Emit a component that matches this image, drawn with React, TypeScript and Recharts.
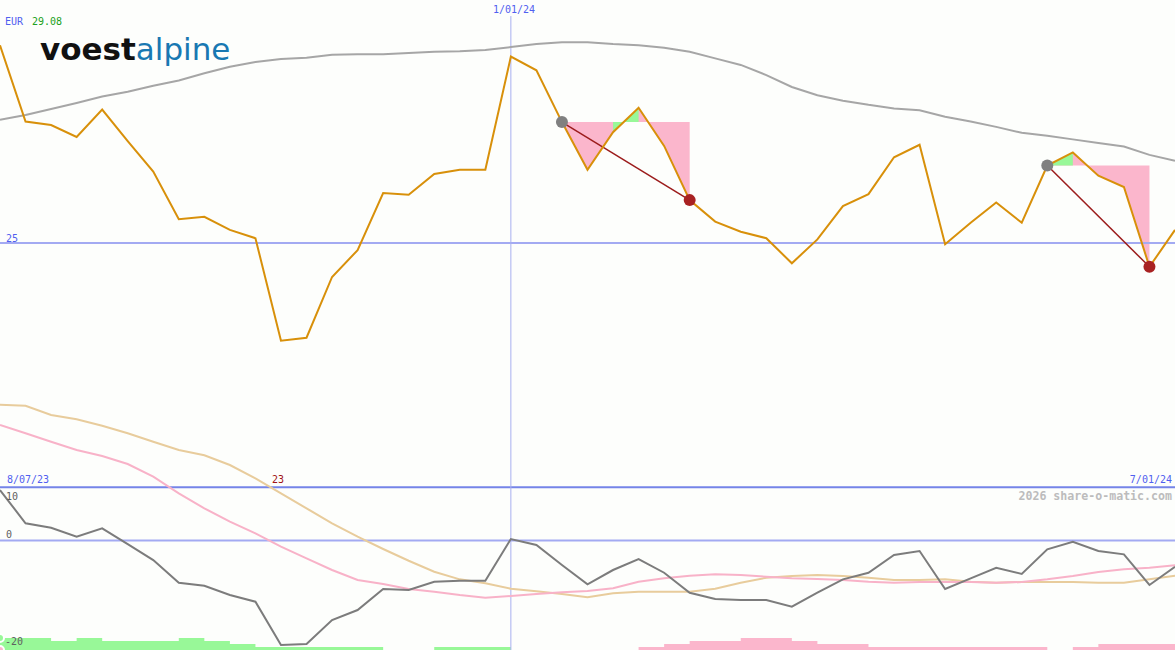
import React from 'react';
import { ComposedChart, Line, Area, XAxis, YAxis, ReferenceLine } from 'recharts';

// weekly index 0..46 (8/07/23 .. 7/01/24)
const weeks = Array.from({ length: 47 }, (_, i) => i);

const price = [
  28.32, 27.04, 26.98, 26.78, 27.24, 26.71, 26.20, 25.40, 25.44, 25.22,
  25.08, 23.36, 23.41, 24.43, 24.88, 25.84, 25.81, 26.16, 26.23, 26.23,
  28.13, 27.90, 27.03, 26.23, 26.86, 27.27, 26.63, 25.72, 25.36, 25.19,
  25.08, 24.66, 25.06, 25.62, 25.82, 26.44, 26.65, 24.98, 25.34, 25.68,
  25.34, 26.30, 26.52, 26.13, 25.94, 24.60, 25.22,
];

const movingAvg = [
  27.07, 27.15, 27.25, 27.35, 27.46, 27.54, 27.64, 27.73, 27.85, 27.96,
  28.04, 28.09, 28.11, 28.16, 28.17, 28.17, 28.19, 28.21, 28.22, 28.24,
  28.29, 28.34, 28.37, 28.37, 28.34, 28.32, 28.28, 28.21, 28.10, 27.99,
  27.82, 27.62, 27.48, 27.39, 27.32, 27.26, 27.23, 27.12, 27.04, 26.95,
  26.85, 26.80, 26.74, 26.68, 26.62, 26.48, 26.38,
];

const oscGray = [
  9.47, 3.23, 2.40, 0.71, 2.29, -0.66, -3.66, -7.91, -8.48, -10.22,
  -11.48, -19.59, -19.41, -14.91, -13.03, -9.09, -9.28, -7.73, -7.54, -7.54,
  0.28, -0.84, -4.59, -8.21, -5.53, -3.47, -6.04, -9.79, -10.97, -11.16,
  -11.16, -12.41, -9.79, -7.28, -6.04, -2.72, -1.97, -9.09, -7.09, -5.10,
  -6.28, -1.65, -0.23, -1.97, -2.59, -8.34, -4.91,
];

const oscPink = [
  21.66, 20.10, 18.53, 16.97, 15.84, 14.34, 11.96, 8.85, 6.04, 3.53,
  1.35, -1.16, -3.34, -5.53, -7.41, -8.16, -9.09, -9.60, -10.22, -10.73,
  -10.41, -10.03, -9.71, -9.47, -8.96, -7.73, -7.09, -6.60, -6.34, -6.47,
  -6.79, -7.09, -7.22, -7.41, -7.73, -7.91, -7.78, -7.78, -7.78, -7.91,
  -7.78, -7.28, -6.66, -5.91, -5.40, -5.10, -4.65,
];

const oscTan = [
  25.46, 25.28, 23.53, 22.73, 21.53, 20.10, 18.53, 16.97, 15.98, 14.16,
  11.66, 8.85, 6.04, 3.23, 0.71, -1.59, -3.79, -5.85, -7.28, -8.03,
  -9.04, -9.53, -10.03, -10.65, -9.90, -9.60, -9.60, -9.60, -9.04, -7.91,
  -6.98, -6.66, -6.47, -6.66, -6.98, -7.41, -7.41, -7.28, -7.73, -7.91,
  -7.78, -7.78, -7.78, -7.91, -7.91, -7.28, -6.60,
];

// weekly histogram levels (green = up, pink = down)
const barsUp = [
  4, 4, 3, 4, 3, 3, 3, 4, 3, 2,
  1, 1, 1, 1, 1, 0, 0, 1, 1, 1,
  0, 0, 0, 0, 0, 0, 0, 0, 0, 0,
  0, 0, 0, 0, 0, 0, 0, 0, 0, 0,
  0, 0, 0, 0, 0, 0, 0,
];
const barsDown = [
  0, 0, 0, 0, 0, 0, 0, 0, 0, 0,
  0, 0, 0, 0, 0, 0, 0, 0, 0, 0,
  0, 0, 0, 0, 0, 1, 2, 3, 3, 4,
  4, 3, 2, 2, 1, 1, 1, 1, 1, 1,
  1, 0, 1, 2, 2, 2, 0,
];

const tradeStarts = [22, 41];
const tradeEnds = [27, 45];

const rows = weeks.map((i) => {
  const r: any = {
    i,
    price: price[i],
    ma: movingAvg[i],
    og: oscGray[i],
    op: oscPink[i],
    ot: oscTan[i],
    up: barsUp[i],
    down: barsDown[i],
    pinkFill: null,
    greenFill: null,
  };
  tradeStarts.forEach((s, t) => {
    const e = tradeEnds[t];
    const level = price[s];
    if (i >= s && i <= e) r.pinkFill = [level, price[i]];
    const segGreenHere = i < e && price[i + 1] > level;
    const segGreenPrev = i > s && price[i] > level;
    if ((i >= s && i <= e) && (segGreenHere || segGreenPrev)) r.greenFill = [level, price[i]];
    r['arrow' + t] = i === s || i === e ? price[i] : null;
  });
  return r;
});

const W = 1175;
const H = 650;
const BG = '#fdfefc';

const makeDot = (t: number) => (p: any) => {
  const key = 'd' + t + '-' + p.index;
  if (p.cy == null || p.cx == null) return <g key={key} />;
  if (p.index === tradeStarts[t]) return <circle key={key} cx={p.cx} cy={p.cy} r={6} fill="#808080" />;
  if (p.index === tradeEnds[t]) return <circle key={key} cx={p.cx} cy={p.cy} r={6} fill="#a82222" />;
  return <g key={key} />;
};

const mono = 'DejaVu Sans Mono, monospace';

export default function App() {
  return (
    <div style={{ position: 'fixed', left: 0, top: 0, width: W, height: H, background: BG, overflow: 'hidden' }}>
      <ComposedChart width={W} height={H} data={rows} margin={{ top: 0, right: 0, bottom: 0, left: 0 }}>
        <XAxis dataKey="i" type="number" domain={[0, 46]} hide />
        <YAxis yAxisId="price" domain={[18.1665, 29.08]} hide allowDataOverflow />
        <YAxis yAxisId="osc" domain={[-20.53, 101.35]} hide allowDataOverflow />
        <YAxis yAxisId="bar" domain={[0, 216.67]} hide allowDataOverflow />

        <Area yAxisId="bar" dataKey="up" type="stepAfter" stroke="none" fill="#98f898" fillOpacity={1} isAnimationActive={false} />
        <Area yAxisId="bar" dataKey="down" type="stepAfter" stroke="none" fill="#fbb6cc" fillOpacity={1} isAnimationActive={false} />

        <ReferenceLine yAxisId="osc" y={0} stroke="#a3aaf2" strokeWidth={2} />
        <ReferenceLine yAxisId="osc" y={10} stroke="#7584e8" strokeWidth={2} />
        <ReferenceLine yAxisId="price" y={25} stroke="#a3aaf2" strokeWidth={2} />
        <ReferenceLine yAxisId="price" segment={[{ x: 20, y: 28.81 }, { x: 20, y: 18.1665 }]} stroke="#a8b0f0" strokeWidth={1} />

        <Line yAxisId="osc" dataKey="ot" stroke="#e8cc9c" strokeWidth={2} dot={false} activeDot={false} isAnimationActive={false} />
        <Line yAxisId="osc" dataKey="op" stroke="#f8b2c8" strokeWidth={2} dot={false} activeDot={false} isAnimationActive={false} />
        <Line yAxisId="osc" dataKey="og" stroke="#7c7c7c" strokeWidth={2} dot={false} activeDot={false} isAnimationActive={false} />

        <Line yAxisId="price" dataKey="ma" stroke="#a6a6a6" strokeWidth={2} dot={false} activeDot={false} isAnimationActive={false} />

        <Area yAxisId="price" dataKey="pinkFill" type="linear" stroke="none" fill="#fbb6cc" fillOpacity={1} isAnimationActive={false} />
        <Area yAxisId="price" dataKey="greenFill" type="linear" stroke="none" fill="#98f898" fillOpacity={1} isAnimationActive={false} />

        <Line yAxisId="price" dataKey="arrow0" connectNulls stroke="#9c1c1c" strokeWidth={1.5} dot={makeDot(0)} activeDot={false} isAnimationActive={false} />
        <Line yAxisId="price" dataKey="arrow1" connectNulls stroke="#9c1c1c" strokeWidth={1.5} dot={makeDot(1)} activeDot={false} isAnimationActive={false} />

        <Line yAxisId="price" dataKey="price" stroke="#d8900a" strokeWidth={2} dot={false} activeDot={false} isAnimationActive={false} />
      </ComposedChart>

      <svg width={W} height={H} style={{ position: 'absolute', left: 0, top: 0, pointerEvents: 'none' }}>
        <text x={5} y={25} fontFamily={mono} fontSize={10} fill="#5060f0">EUR</text>
        <text x={32} y={25} fontFamily={mono} fontSize={10} fill="#20a020">29.08</text>
        <text x={40} y={60} fontFamily="DejaVu Sans, sans-serif" fontSize={31}>
          <tspan fontWeight="bold" fill="#111111">voest</tspan>
          <tspan fill="#1878b2">alpine</tspan>
        </text>
        <text x={514} y={13} textAnchor="middle" fontFamily={mono} fontSize={10} fill="#5060f0">1/01/24</text>
        <text x={6} y={242} fontFamily={mono} fontSize={10} fill="#5060f0">25</text>
        <text x={7} y={483} fontFamily={mono} fontSize={10} fill="#5060f0">8/07/23</text>
        <text x={272} y={483} fontFamily={mono} fontSize={10} fill="#a01414">23</text>
        <text x={1172} y={483} textAnchor="end" fontFamily={mono} fontSize={10} fill="#5060f0">7/01/24</text>
        <text x={1172} y={500} textAnchor="end" fontFamily={mono} fontSize={11.6} fontWeight="bold" fill="#bcbcbc">2026 share-o-matic.com</text>
        <text x={6} y={500} fontFamily={mono} fontSize={10} fill="#606060">10</text>
        <text x={6} y={538} fontFamily={mono} fontSize={10} fill="#606060">0</text>
        <text x={5} y={645} fontFamily={mono} fontSize={10} fill="#606060">-20</text>
      </svg>
    </div>
  );
}
